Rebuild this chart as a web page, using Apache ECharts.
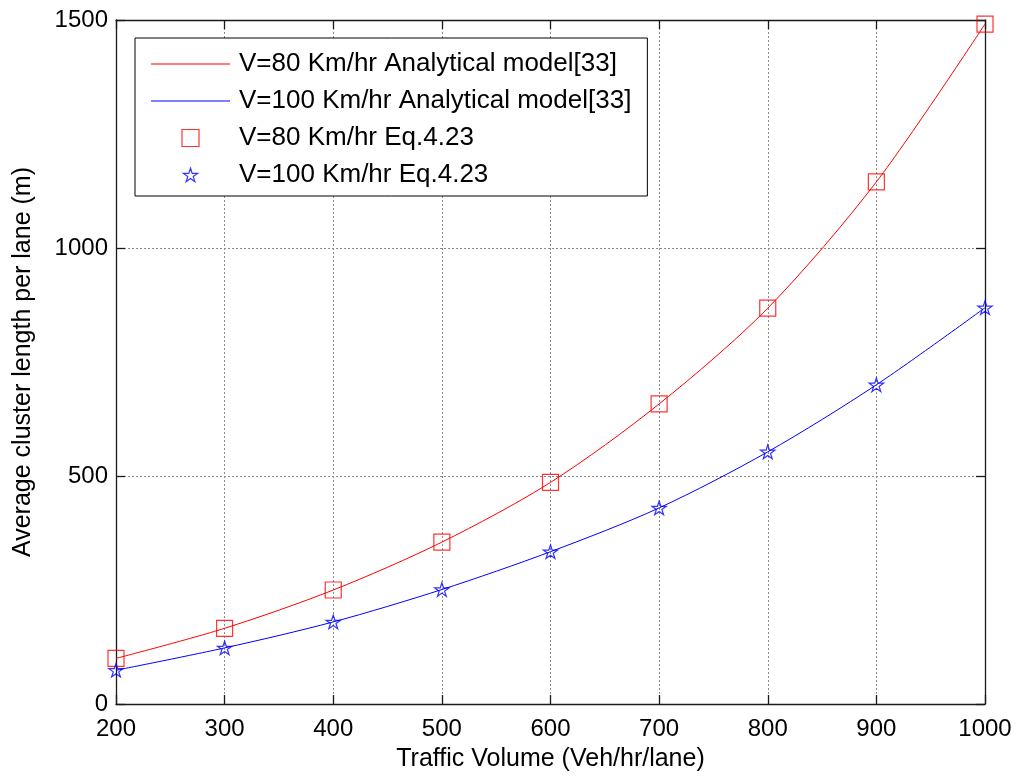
<!DOCTYPE html>
<html>
<head>
<meta charset="utf-8">
<title>Average cluster length per lane</title>
<script src="https://cdn.jsdelivr.net/npm/echarts@6/dist/echarts.min.js"></script>
<style>
  html, body { margin: 0; padding: 0; background: #fff; }
  #chart { width: 1018px; height: 778px; }
</style>
</head>
<body>
<div id="chart"></div>
<script>
// Traffic volume (veh/hr/lane)
const volumes = [200, 300, 400, 500, 600, 700, 800, 900, 1000];
// Analytical model [33], average cluster length (m)
const model80 = [100, 166, 250, 355, 486, 658, 868, 1145, 1491];
const model100 = [74, 123, 180, 251, 334, 430, 553, 700, 869];
// Eq. 4.23 results (m)
const eq80 = [100, 166, 250, 355, 486, 658, 868, 1145, 1491];
const eq100 = [74, 123, 180, 251, 334, 430, 553, 700, 869];

const xTicks = { min: 200, max: 1000, step: 100 };
const yTicks = { min: 0, max: 1500, step: 500 };

const seriesNames = [
  'V=80 Km/hr Analytical model[33]',
  'V=100 Km/hr Analytical model[33]',
  'V=80 Km/hr Eq.4.23',
  'V=100 Km/hr Eq.4.23'
];

const pairs = (xs, ys) => xs.map((x, i) => [x, ys[i]]);

// five-pointed star framed in a 100x100 box so it sits a bit smaller than the square
const starPath = 'path://M0 0M100 100M50 10L59.93 40.53L92.04 40.54L66.07 59.42L75.98 89.96L50 71.1L24.02 89.96L33.93 59.42L7.96 40.54L40.07 40.53Z';
const squarePath = 'path://M0 0h100v100h-100z';
// thin bar used as the legend swatch of a plain line
const linePath = 'path://M0 0h100v1.3h-100z';

const FONT = 'Liberation Sans, Arial, sans-serif';
const axisColor = '#1a1a1a';
const gridLine = { show: true, lineStyle: { color: '#8a8a8a', width: 1, type: [2, 2] } };
const plain = v => String(v);

function xAxisDef(pos, withLabels) {
  return {
    type: 'value', position: pos, min: xTicks.min, max: xTicks.max, interval: xTicks.step,
    axisLine: { show: true, onZero: false, lineStyle: { color: axisColor, width: 1.3 } },
    axisTick: { show: true, inside: true, length: 9, lineStyle: { color: axisColor, width: 1.3 } },
    axisLabel: { show: withLabels, color: '#000', fontSize: 24, fontFamily: FONT, margin: 13, formatter: plain },
    splitLine: withLabels ? gridLine : { show: false },
    name: withLabels ? 'Traffic Volume (Veh/hr/lane)' : '',
    nameLocation: 'middle', nameGap: 43,
    nameTextStyle: { color: '#000', fontSize: 25, fontFamily: FONT }
  };
}

function yAxisDef(pos, withLabels) {
  return {
    type: 'value', position: pos, min: yTicks.min, max: yTicks.max, interval: yTicks.step,
    axisLine: { show: true, onZero: false, lineStyle: { color: axisColor, width: 1.3 } },
    axisTick: { show: true, inside: true, length: 9, lineStyle: { color: axisColor, width: 1.3 } },
    axisLabel: { show: withLabels, color: '#000', fontSize: 24, fontFamily: FONT, margin: 8, formatter: plain },
    splitLine: withLabels ? gridLine : { show: false },
    name: withLabels ? 'Average cluster length per lane (m)' : '',
    nameLocation: 'middle', nameGap: 80,
    nameTextStyle: { color: '#000', fontSize: 25, fontFamily: FONT }
  };
}

const chart = echarts.init(document.getElementById('chart'), null, { renderer: 'canvas' });

chart.setOption({
  animation: false,
  backgroundColor: '#fff',
  grid: { left: 116, right: 33, top: 20, bottom: 74, containLabel: false },
  xAxis: [xAxisDef('bottom', true), xAxisDef('top', false)],
  yAxis: [yAxisDef('left', true), yAxisDef('right', false)],
  legend: {
    orient: 'vertical', left: 135, top: 38, align: 'left',
    backgroundColor: '#fff', borderColor: '#000', borderWidth: 1,
    padding: [13, 16, 8, 16],
    itemWidth: 79, itemHeight: 17, itemGap: 11,
    selectedMode: false,
    symbolKeepAspect: true,
    textStyle: { color: '#000', fontSize: 26, fontFamily: FONT, lineHeight: 26, padding: [0, 0, 0, 4] },
    data: [
      { name: seriesNames[0], icon: linePath, itemStyle: { color: '#ff0000', borderWidth: 0 } },
      { name: seriesNames[1], icon: linePath, itemStyle: { color: '#0000ff', borderWidth: 0 } },
      { name: seriesNames[2], icon: squarePath, itemStyle: { color: 'rgba(0,0,0,0)', borderColor: '#ff0000', borderWidth: 1.2 } },
      { name: seriesNames[3], icon: starPath, itemStyle: { color: 'rgba(0,0,0,0)', borderColor: '#0000ff', borderWidth: 1.2 } }
    ]
  },
  series: [
    {
      name: seriesNames[0], type: 'line', data: pairs(volumes, model80),
      smooth: 0.3, symbol: 'none',
      lineStyle: { color: '#ff0000', width: 1 }, itemStyle: { color: '#ff0000' }, z: 3
    },
    {
      name: seriesNames[1], type: 'line', data: pairs(volumes, model100),
      smooth: 0.3, symbol: 'none',
      lineStyle: { color: '#0000ff', width: 1 }, itemStyle: { color: '#0000ff' }, z: 3
    },
    {
      name: seriesNames[2], type: 'scatter', data: pairs(volumes, eq80),
      symbol: squarePath, symbolSize: 16,
      itemStyle: { color: 'rgba(0,0,0,0)', borderColor: '#ff0000', borderWidth: 1.2 }, z: 4
    },
    {
      name: seriesNames[3], type: 'scatter', data: pairs(volumes, eq100),
      symbol: starPath, symbolSize: 17,
      itemStyle: { color: 'rgba(0,0,0,0)', borderColor: '#0000ff', borderWidth: 1.2 }, z: 4
    }
  ]
});
</script>
</body>
</html>
